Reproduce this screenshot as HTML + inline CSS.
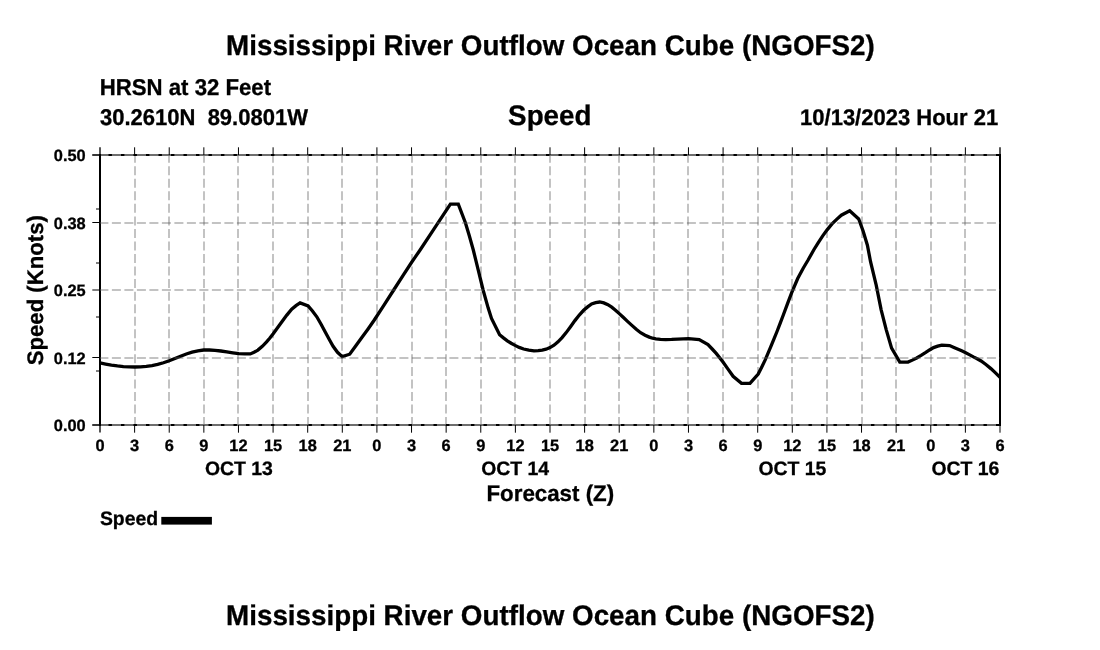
<!DOCTYPE html>
<html lang="en">
<head>
<meta charset="utf-8">
<title>Mississippi River Outflow Ocean Cube (NGOFS2) - Speed</title>
<style>
html,body{margin:0;padding:0;background:#fff;}
body{width:1100px;height:650px;overflow:hidden;}
svg{display:block;}
text{font-family:"Liberation Sans",Arial,Helvetica,sans-serif;font-weight:bold;fill:#000;stroke:#000;stroke-width:0.3px;text-rendering:geometricPrecision;white-space:pre;}
.grid line{stroke:#606060;stroke-opacity:0.5;stroke-width:1.5;}
.vg line{stroke-dasharray:9 3.54;stroke-dashoffset:1.3;}
.hg line{stroke-dasharray:9 3.5;stroke-dashoffset:0.6;}
.tick line{stroke:#000;stroke-width:1;}
</style>
</head>
<body>
<svg width="1100" height="650" viewBox="0 0 1100 650">
<rect x="0" y="0" width="1100" height="650" fill="#ffffff"/>
<text transform="translate(550.4 54.8) scale(1 1.02)" font-size="27.8" text-anchor="middle" xml:space="preserve">Mississippi River Outflow Ocean Cube (NGOFS2)</text>
<text transform="translate(99.7 94.6) scale(1 1.03)" font-size="22.2" xml:space="preserve">HRSN at 32 Feet</text>
<text transform="translate(100 124.7) scale(1 1.035)" font-size="22" xml:space="preserve">30.2610N  89.0801W</text>
<text transform="translate(549.8 124.6) scale(1 1.015)" font-size="27.8" text-anchor="middle" xml:space="preserve">Speed</text>
<text transform="translate(998.2 124.7) scale(1 1.03)" font-size="22" text-anchor="end" xml:space="preserve">10/13/2023 Hour 21</text>
<g class="grid vg">
<line x1="135" y1="155" x2="135" y2="425"/>
<line x1="169" y1="155" x2="169" y2="425"/>
<line x1="204" y1="155" x2="204" y2="425"/>
<line x1="238" y1="155" x2="238" y2="425"/>
<line x1="273" y1="155" x2="273" y2="425"/>
<line x1="308" y1="155" x2="308" y2="425"/>
<line x1="342" y1="155" x2="342" y2="425"/>
<line x1="377" y1="155" x2="377" y2="425"/>
<line x1="412" y1="155" x2="412" y2="425"/>
<line x1="446" y1="155" x2="446" y2="425"/>
<line x1="481" y1="155" x2="481" y2="425"/>
<line x1="515" y1="155" x2="515" y2="425"/>
<line x1="550" y1="155" x2="550" y2="425"/>
<line x1="585" y1="155" x2="585" y2="425"/>
<line x1="619" y1="155" x2="619" y2="425"/>
<line x1="654" y1="155" x2="654" y2="425"/>
<line x1="688" y1="155" x2="688" y2="425"/>
<line x1="723" y1="155" x2="723" y2="425"/>
<line x1="758" y1="155" x2="758" y2="425"/>
<line x1="792" y1="155" x2="792" y2="425"/>
<line x1="827" y1="155" x2="827" y2="425"/>
<line x1="862" y1="155" x2="862" y2="425"/>
<line x1="896" y1="155" x2="896" y2="425"/>
<line x1="931" y1="155" x2="931" y2="425"/>
<line x1="965" y1="155" x2="965" y2="425"/>
</g>
<line x1="92.3" y1="155" x2="1000" y2="155" stroke="#6e6e6e" stroke-width="2"/>
<line x1="100" y1="155" x2="1000" y2="155" stroke="#000" stroke-width="2" stroke-dasharray="3.4 9.1" stroke-dashoffset="-8.5"/>
<line x1="92.3" y1="425" x2="1000" y2="425" stroke="#6e6e6e" stroke-width="2"/>
<line x1="100" y1="425" x2="1000" y2="425" stroke="#000" stroke-width="2" stroke-dasharray="3.4 9.1" stroke-dashoffset="-8.5"/>
<g class="tick">
<line x1="100" y1="147.3" x2="100" y2="155" style="stroke:#555;stroke-width:2"/>
<line x1="100" y1="425" x2="100" y2="432.5" style="stroke:#555;stroke-width:2"/>
<line x1="134.62" y1="147.3" x2="134.62" y2="155"/>
<line x1="134.62" y1="425" x2="134.62" y2="432.7"/>
<line x1="169.23" y1="147.3" x2="169.23" y2="155"/>
<line x1="169.23" y1="425" x2="169.23" y2="432.7"/>
<line x1="203.85" y1="147.3" x2="203.85" y2="155"/>
<line x1="203.85" y1="425" x2="203.85" y2="432.7"/>
<line x1="238.46" y1="147.3" x2="238.46" y2="155"/>
<line x1="238.46" y1="425" x2="238.46" y2="432.7"/>
<line x1="273.08" y1="147.3" x2="273.08" y2="155"/>
<line x1="273.08" y1="425" x2="273.08" y2="432.7"/>
<line x1="307.69" y1="147.3" x2="307.69" y2="155"/>
<line x1="307.69" y1="425" x2="307.69" y2="432.7"/>
<line x1="342.31" y1="147.3" x2="342.31" y2="155"/>
<line x1="342.31" y1="425" x2="342.31" y2="432.7"/>
<line x1="376.92" y1="147.3" x2="376.92" y2="155"/>
<line x1="376.92" y1="425" x2="376.92" y2="432.7"/>
<line x1="411.54" y1="147.3" x2="411.54" y2="155"/>
<line x1="411.54" y1="425" x2="411.54" y2="432.7"/>
<line x1="446.15" y1="147.3" x2="446.15" y2="155"/>
<line x1="446.15" y1="425" x2="446.15" y2="432.7"/>
<line x1="480.77" y1="147.3" x2="480.77" y2="155"/>
<line x1="480.77" y1="425" x2="480.77" y2="432.7"/>
<line x1="515.38" y1="147.3" x2="515.38" y2="155"/>
<line x1="515.38" y1="425" x2="515.38" y2="432.7"/>
<line x1="550" y1="147.3" x2="550" y2="155"/>
<line x1="550" y1="425" x2="550" y2="432.7"/>
<line x1="584.62" y1="147.3" x2="584.62" y2="155"/>
<line x1="584.62" y1="425" x2="584.62" y2="432.7"/>
<line x1="619.23" y1="147.3" x2="619.23" y2="155"/>
<line x1="619.23" y1="425" x2="619.23" y2="432.7"/>
<line x1="653.85" y1="147.3" x2="653.85" y2="155"/>
<line x1="653.85" y1="425" x2="653.85" y2="432.7"/>
<line x1="688.46" y1="147.3" x2="688.46" y2="155"/>
<line x1="688.46" y1="425" x2="688.46" y2="432.7"/>
<line x1="723.08" y1="147.3" x2="723.08" y2="155"/>
<line x1="723.08" y1="425" x2="723.08" y2="432.7"/>
<line x1="757.69" y1="147.3" x2="757.69" y2="155"/>
<line x1="757.69" y1="425" x2="757.69" y2="432.7"/>
<line x1="792.31" y1="147.3" x2="792.31" y2="155"/>
<line x1="792.31" y1="425" x2="792.31" y2="432.7"/>
<line x1="826.92" y1="147.3" x2="826.92" y2="155"/>
<line x1="826.92" y1="425" x2="826.92" y2="432.7"/>
<line x1="861.54" y1="147.3" x2="861.54" y2="155"/>
<line x1="861.54" y1="425" x2="861.54" y2="432.7"/>
<line x1="896.15" y1="147.3" x2="896.15" y2="155"/>
<line x1="896.15" y1="425" x2="896.15" y2="432.7"/>
<line x1="930.77" y1="147.3" x2="930.77" y2="155"/>
<line x1="930.77" y1="425" x2="930.77" y2="432.7"/>
<line x1="965.38" y1="147.3" x2="965.38" y2="155"/>
<line x1="965.38" y1="425" x2="965.38" y2="432.7"/>
<line x1="1000" y1="147.3" x2="1000" y2="155" style="stroke:#555;stroke-width:2"/>
<line x1="1000" y1="425" x2="1000" y2="432.7"/>
<line x1="92.3" y1="425" x2="100" y2="425"/>
<line x1="92.3" y1="357.5" x2="100" y2="357.5"/>
<line x1="92.3" y1="290" x2="100" y2="290"/>
<line x1="92.3" y1="222.5" x2="100" y2="222.5"/>
<line x1="92.3" y1="155" x2="100" y2="155"/>
<line x1="96" y1="371" x2="100" y2="371"/>
<line x1="96" y1="317" x2="100" y2="317"/>
<line x1="96" y1="263" x2="100" y2="263"/>
<line x1="96" y1="209" x2="100" y2="209"/>
</g>
<line x1="100" y1="154" x2="100" y2="426" stroke="#000" stroke-width="2"/>
<line x1="1000" y1="154" x2="1000" y2="426" stroke="#000" stroke-width="2"/>
<clipPath id="plotclip"><rect x="99" y="150" width="902" height="280"/></clipPath>
<polyline clip-path="url(#plotclip)" fill="none" stroke="#000" stroke-width="3.3" stroke-linejoin="miter" stroke-linecap="butt" points="100,362.9 105.66,364.04 111.4,365.1 117.4,365.96 123.4,366.6 129.13,366.94 134.8,367 140.55,366.79 146.3,366.3 152,365.53 157.7,364.4 163.45,362.77 169.2,360.8 174.9,358.53 180.6,356.2 186.34,353.99 192.1,352.1 197.91,350.77 203.7,350 209.34,349.98 215,350.4 220.86,351.01 226.8,351.8 232.82,352.77 238.8,353.6 244.58,353.84 250.3,353.9 254.03,352.27 257.9,350.1 262.31,346.28 266.6,341.9 269.9,338.04 273.2,333.7 277.35,327.97 281.9,321.7 286.82,315.09 291.7,309.2 295.99,305.66 300.1,302.9 308.1,305.9 312.45,311.04 316.8,316.8 321.22,324.53 325.5,332.6 329.57,340.06 333.1,346.3 337.5,352.3 342.2,356.6 349.7,354.2 355.85,345.71 362,337.2 367.71,329.41 374.3,320 383.66,305.64 393.7,290 403.27,275.16 411.5,262.5 415.02,257.39 420.1,250 433.89,229.18 450.4,204.2 458.3,204.2 465.4,222.7 469.23,235.56 473.3,250 478.38,270.57 483.1,290 488.2,308.1 491.5,318.4 499.6,334.8 503.44,337.89 507.3,340.8 511.15,343.25 515.1,345.4 519.19,347.37 523.6,349 528.82,350.17 534,350.8 538.26,350.72 542.2,350.1 546.11,349.16 550,347.6 553.98,345.18 558,341.9 562.06,337.64 566.2,332.6 570.52,326.66 574.9,320.6 579.29,315.09 583.6,310.3 587.64,306.9 591.6,304 595.64,302.71 599.7,302 603.83,302.88 607.9,304.7 611.73,307.18 615.5,310.2 619.28,313.59 623.2,317.3 627.49,321.34 631.9,325.4 636.25,329.28 640.6,332.7 645.08,335.24 649.3,337.1 652.53,338.23 655.9,338.9 660.46,339.39 665.7,339.6 671.63,339.42 677.7,339.1 683.24,338.81 688.6,338.7 693.92,339.07 699.2,339.6 708,344.6 712.19,349.01 716.2,353.4 719.48,357.41 723,362.1 727.84,368.86 733.1,376.3 741.5,383.3 750,383.3 758.2,374.1 761.79,366.93 765.2,359.9 770.7,346.8 773.79,339.39 777,331.5 780.13,323.41 783.5,314.5 787.63,303.42 791.7,292.7 797.7,278.5 803.2,268.2 808.1,260 814,249.5 818.14,242.79 822.7,235.9 827.31,229.59 832,223.9 836.65,219.34 841.3,215.2 849.7,210.8 858.7,219 863.1,231 867.4,245.2 870.6,262 876.2,285.1 881.1,309.6 886.2,329.6 891.6,348.2 899.8,362.1 908,362.1 912.35,360.13 916.7,358 921.08,355.41 925.4,352.7 929.53,349.98 933.6,347.6 937.7,346.19 941.8,345.1 949.6,345.6 953.94,347.48 958.1,349.3 961.67,350.86 965.2,352.5 969.26,354.64 973.4,356.9 977.15,358.75 981.1,361 985.91,364.51 990.9,368.6 995.49,372.88 1000,377.3"/>
<g class="grid hg">
<line x1="100" y1="358" x2="1000" y2="358"/>
<line x1="100" y1="290" x2="1000" y2="290"/>
<line x1="100" y1="223" x2="1000" y2="223"/>
</g>
<text transform="translate(85.7 431)" font-size="16.4" text-anchor="end" xml:space="preserve">0.00</text>
<text transform="translate(85.7 363.5)" font-size="16.4" text-anchor="end" xml:space="preserve">0.12</text>
<text transform="translate(85.7 296)" font-size="16.4" text-anchor="end" xml:space="preserve">0.25</text>
<text transform="translate(85.7 228.5)" font-size="16.4" text-anchor="end" xml:space="preserve">0.38</text>
<text transform="translate(85.7 161)" font-size="16.4" text-anchor="end" xml:space="preserve">0.50</text>
<text transform="translate(43.3 290.2) rotate(-90) scale(1 1.015)" font-size="22.15" text-anchor="middle" xml:space="preserve">Speed (Knots)</text>
<text transform="translate(100 450.9)" font-size="16.4" text-anchor="middle" xml:space="preserve">0</text>
<text transform="translate(134.62 450.9)" font-size="16.4" text-anchor="middle" xml:space="preserve">3</text>
<text transform="translate(169.23 450.9)" font-size="16.4" text-anchor="middle" xml:space="preserve">6</text>
<text transform="translate(203.85 450.9)" font-size="16.4" text-anchor="middle" xml:space="preserve">9</text>
<text transform="translate(238.46 450.9)" font-size="16.4" text-anchor="middle" xml:space="preserve">12</text>
<text transform="translate(273.08 450.9)" font-size="16.4" text-anchor="middle" xml:space="preserve">15</text>
<text transform="translate(307.69 450.9)" font-size="16.4" text-anchor="middle" xml:space="preserve">18</text>
<text transform="translate(342.31 450.9)" font-size="16.4" text-anchor="middle" xml:space="preserve">21</text>
<text transform="translate(376.92 450.9)" font-size="16.4" text-anchor="middle" xml:space="preserve">0</text>
<text transform="translate(411.54 450.9)" font-size="16.4" text-anchor="middle" xml:space="preserve">3</text>
<text transform="translate(446.15 450.9)" font-size="16.4" text-anchor="middle" xml:space="preserve">6</text>
<text transform="translate(480.77 450.9)" font-size="16.4" text-anchor="middle" xml:space="preserve">9</text>
<text transform="translate(515.38 450.9)" font-size="16.4" text-anchor="middle" xml:space="preserve">12</text>
<text transform="translate(550 450.9)" font-size="16.4" text-anchor="middle" xml:space="preserve">15</text>
<text transform="translate(584.62 450.9)" font-size="16.4" text-anchor="middle" xml:space="preserve">18</text>
<text transform="translate(619.23 450.9)" font-size="16.4" text-anchor="middle" xml:space="preserve">21</text>
<text transform="translate(653.85 450.9)" font-size="16.4" text-anchor="middle" xml:space="preserve">0</text>
<text transform="translate(688.46 450.9)" font-size="16.4" text-anchor="middle" xml:space="preserve">3</text>
<text transform="translate(723.08 450.9)" font-size="16.4" text-anchor="middle" xml:space="preserve">6</text>
<text transform="translate(757.69 450.9)" font-size="16.4" text-anchor="middle" xml:space="preserve">9</text>
<text transform="translate(792.31 450.9)" font-size="16.4" text-anchor="middle" xml:space="preserve">12</text>
<text transform="translate(826.92 450.9)" font-size="16.4" text-anchor="middle" xml:space="preserve">15</text>
<text transform="translate(861.54 450.9)" font-size="16.4" text-anchor="middle" xml:space="preserve">18</text>
<text transform="translate(896.15 450.9)" font-size="16.4" text-anchor="middle" xml:space="preserve">21</text>
<text transform="translate(930.77 450.9)" font-size="16.4" text-anchor="middle" xml:space="preserve">0</text>
<text transform="translate(965.38 450.9)" font-size="16.4" text-anchor="middle" xml:space="preserve">3</text>
<text transform="translate(1000 450.9)" font-size="16.4" text-anchor="middle" xml:space="preserve">6</text>
<text transform="translate(238.86 474.6)" font-size="19.4" text-anchor="middle" xml:space="preserve">OCT 13</text>
<text transform="translate(515.18 474.6)" font-size="19.4" text-anchor="middle" xml:space="preserve">OCT 14</text>
<text transform="translate(792.41 474.6)" font-size="19.4" text-anchor="middle" xml:space="preserve">OCT 15</text>
<text transform="translate(965.38 474.6)" font-size="19.4" text-anchor="middle" xml:space="preserve">OCT 16</text>
<text transform="translate(550.3 500.5) scale(1 1.015)" font-size="22.3" text-anchor="middle" xml:space="preserve">Forecast (Z)</text>
<text transform="translate(99.9 524.5)" font-size="19.4" xml:space="preserve">Speed</text>
<rect x="161.3" y="516.9" width="50.6" height="7.7" fill="#000"/>
<text transform="translate(550.4 624.8) scale(1 1.02)" font-size="27.8" text-anchor="middle" xml:space="preserve">Mississippi River Outflow Ocean Cube (NGOFS2)</text>
</svg>
</body>
</html>
